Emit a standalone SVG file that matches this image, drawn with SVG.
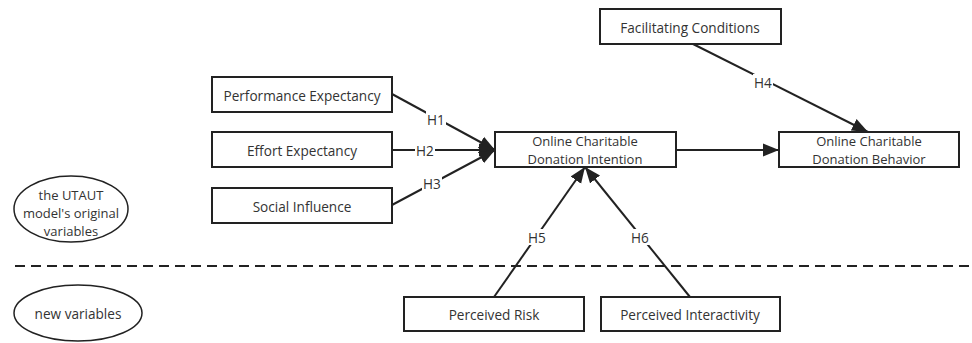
<svg xmlns="http://www.w3.org/2000/svg" width="972" height="343" viewBox="0 0 972 343">
<defs>
<style>
.box{fill:#fff;stroke:#222;stroke-width:2}
.ell{fill:#fff;stroke:#222;stroke-width:1.5}
text{font-family:"Open Sans","Noto Sans","Liberation Sans",sans-serif;font-size:13.6px;fill:#333;text-anchor:middle;dominant-baseline:central}
.ml{font-size:13px}
.edge{stroke:#222;stroke-width:2;fill:none;marker-end:url(#arr)}
.lb{fill:#fff}
</style>
<marker id="arr" viewBox="0 0 10 10" refX="10" refY="5" markerWidth="16" markerHeight="16" markerUnits="userSpaceOnUse" orient="auto">
<path d="M0,1 L10,5 L0,9 z" fill="#222"/>
</marker>
</defs>
<rect width="972" height="343" fill="#fff"/>
<line x1="15" y1="266" x2="972" y2="266" stroke="#222" stroke-width="2" stroke-dasharray="10,6"/>
<g id="connectors">
<line class="edge" x1="392" y1="94" x2="495" y2="150"/>
<line class="edge" x1="392" y1="150" x2="495" y2="150"/>
<line class="edge" x1="392" y1="205" x2="495" y2="150"/>
<line class="edge" x1="676" y1="150" x2="779" y2="150"/>
<line class="edge" x1="693" y1="44" x2="868" y2="132"/>
<line class="edge" x1="494" y1="297" x2="585" y2="167"/>
<line class="edge" x1="690" y1="297" x2="585" y2="167"/>
<rect class="lb" x="426" y="111" width="20" height="16"/>
<text x="436" y="119">H1</text>
<rect class="lb" x="415" y="142" width="20" height="16"/>
<text x="425" y="150">H2</text>
<rect class="lb" x="422" y="175" width="20" height="16"/>
<text x="432" y="183">H3</text>
<rect class="lb" x="753" y="74" width="20" height="16"/>
<text x="763" y="82">H4</text>
<rect class="lb" x="527" y="229" width="20" height="16"/>
<text x="537" y="237">H5</text>
<rect class="lb" x="630" y="229" width="20" height="16"/>
<text x="640" y="237">H6</text>
</g>
<g id="performance"><rect class="box" x="212" y="77" width="180" height="35"/><text x="302" y="95">Performance Expectancy</text></g>
<g id="effort"><rect class="box" x="212" y="132" width="180" height="35"/><text x="302" y="150">Effort Expectancy</text></g>
<g id="social"><rect class="box" x="212" y="188" width="180" height="35"/><text x="302" y="206">Social Influence</text></g>
<g id="intention"><rect class="box" x="495" y="132" width="181" height="35"/><text class="ml" x="585" y="141">Online Charitable</text><text class="ml" x="585" y="158.8">Donation Intention</text></g>
<g id="behavior"><rect class="box" x="779" y="132" width="180" height="35"/><text class="ml" x="869" y="141">Online Charitable</text><text class="ml" x="869" y="158.8">Donation Behavior</text></g>
<g id="facilitating"><rect class="box" x="600" y="9" width="181" height="35"/><text x="690" y="27">Facilitating Conditions</text></g>
<g id="risk"><rect class="box" x="404" y="297" width="180" height="34"/><text x="494" y="314">Perceived Risk</text></g>
<g id="interactivity"><rect class="box" x="601" y="297" width="179" height="34"/><text x="690" y="314">Perceived Interactivity</text></g>
<g id="utaut"><ellipse class="ell" cx="71" cy="209" rx="57" ry="33"/><text class="ml" x="71" y="195">the UTAUT</text><text class="ml" x="71" y="212.8">model's original</text><text class="ml" x="71" y="230.6">variables</text></g>
<g id="newvars"><ellipse class="ell" cx="78" cy="313" rx="64" ry="28"/><text x="78" y="313">new variables</text></g>
</svg>
